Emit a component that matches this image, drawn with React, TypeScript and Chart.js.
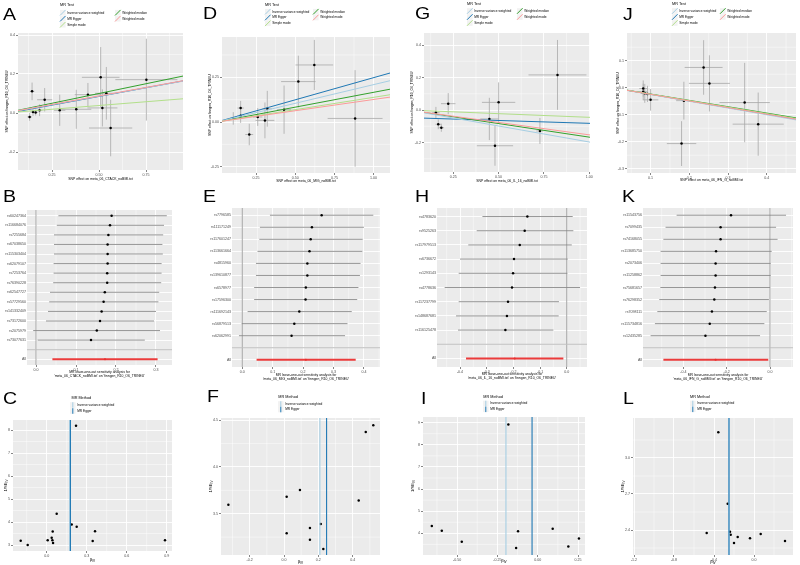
import { useEffect, useRef } from "react";
import { Chart, registerables } from "chart.js";

Chart.register(...registerables);

const FONT = "'Liberation Sans', Arial, 'DejaVu Sans', sans-serif";

// Method palette (ColorBrewer "Paired")
const METHOD_NAMES = ["Inverse variance weighted", "MR Egger", "Simple mode", "Weighted median", "Weighted mode"];
const METHOD_COLORS = ["#A6CEE3", "#1F78B4", "#B2DF8A", "#33A02C", "#FB9A99"];
const FUNNEL_METHODS = ["Inverse variance weighted", "MR Egger"];
const FUNNEL_COLORS = ["#A6CEE3", "#1F78B4"];
const OUTCOME = "finngen_R10_O6_TRINEU";

/* ---------------- CTACK ---------------- */
const ctackExposure = "meta_06_CTACK_noBMI.txt";
const ctackBetaX = [0.131, 0.144, 0.149, 0.163, 0.184, 0.211, 0.291, 0.379, 0.441, 0.509, 0.518, 0.539, 0.562, 0.752];
const ctackBetaY = [-0.02, 0.111, 0.005, 0.002, 0.014, 0.068, 0.014, 0.019, 0.094, 0.183, 0.026, 0.101, -0.077, 0.171];
const ctackSeX = [0.012, 0.012, 0.015, 0.012, 0.015, 0.04, 0.03, 0.08, 0.07, 0.1, 0.08, 0.06, 0.115, 0.165];
const ctackSeY = [0.02, 0.045, 0.02, 0.015, 0.03, 0.06, 0.08, 0.1, 0.06, 0.155, 0.095, 0.135, 0.145, 0.21];
const ctackSlopes = [0.1725, 0.178, 0.077, 0.2, 0.175];
const ctackIntercepts = [0, -0.004, 0, 0, 0];
const ctackXTicks = ["0.25", "0.50", "0.75"];
const ctackYTicks = ["-0.2", "0.0", "0.2", "0.4"];
const ctackSnps = ["rs60247364", "rs116684076", "rs7255684", "rs67038650", "rs115303404", "rs62079107", "rs7253764", "rs76390228", "rs62547727", "rs57729560", "rs141332409", "rs73172600", "rs2075979", "rs73077631"];
const ctackLooB = [0.189, 0.185, 0.181, 0.179, 0.179, 0.179, 0.178, 0.178, 0.172, 0.169, 0.164, 0.16, 0.152, 0.1375];
const ctackLooLo = [0.056, 0.052, 0.045, 0.045, 0.045, 0.044, 0.044, 0.043, 0.035, 0.033, 0.03, 0.025, -0.007, 0.004];
const ctackLooHi = [0.327, 0.32, 0.318, 0.316, 0.317, 0.314, 0.314, 0.313, 0.308, 0.306, 0.3, 0.295, 0.31, 0.272];
const ctackAll = [0.1725, 0.041, 0.304];
const ctackLooTicks = ["0.0", "0.1", "0.2", "0.3"];
const ctackIvBeta = [-0.195, -0.1425, 0.0075, 0.0375, 0.0425, 0.0475, 0.045, 0.075, 0.1875, 0.225, 0.22, 0.345, 0.3625, 0.8875];
const ctackIvPrecision = [3.19, 3.0, 3.21, 3.31, 3.21, 3.09, 3.59, 4.36, 3.89, 3.79, 8.19, 3.17, 3.6, 3.21];
const ctackFunnelBeta = [0.1725, 0.178];
const ctackFunnelXTicks = ["0.0", "0.3", "0.6", "0.9"];
const ctackFunnelYTicks = ["3", "4", "5", "6", "7", "8"];

/* ---------------- MIG ---------------- */
const migExposure = "meta_06_MIG_noBMI.txt";
const migBetaX = [0.105, 0.152, 0.152, 0.207, 0.261, 0.307, 0.322, 0.429, 0.52, 0.622, 0.882];
const migBetaY = [0.02, 0.035, 0.078, -0.07, 0.028, 0.009, 0.074, 0.069, 0.226, 0.319, 0.02];
const migSeX = [0.02, 0.02, 0.02, 0.025, 0.03, 0.06, 0.03, 0.045, 0.11, 0.12, 0.175];
const migSeY = [0.035, 0.04, 0.04, 0.06, 0.05, 0.1, 0.1, 0.135, 0.145, 0.14, 0.27];
const migSlopes = [0.209, 0.248, 0.138, 0.166, 0.126];
const migIntercepts = [0, 0.0, 0, 0, 0];
const migXTicks = ["0.25", "0.50", "0.75", "1.00"];
const migYTicks = ["-0.25", "0.00", "0.25"];
const migSnps = ["rs7796585", "rs111171249", "rs117601247", "rs113661664", "rs4815960", "rs139610877", "rs6578977", "rs17596300", "rs111692143", "rs56879513", "rs62062991"];
const migLooB = [0.261, 0.229, 0.225, 0.221, 0.214, 0.214, 0.209, 0.208, 0.1875, 0.171, 0.162];
const migLooLo = [0.091, 0.058, 0.056, 0.05, 0.045, 0.045, 0.039, 0.039, 0.0175, -0.002, -0.011];
const migLooHi = [0.431, 0.4, 0.396, 0.395, 0.389, 0.387, 0.382, 0.378, 0.36, 0.346, 0.338];
const migAll = [0.209, 0.047, 0.373];
const migLooTicks = ["0.0", "0.1", "0.2", "0.3", "0.4"];
const migIvBeta = [-0.324, 0.0155, 0.0155, 0.093, 0.151, 0.151, 0.214, 0.229, 0.435, 0.476, 0.52];
const migIvPrecision = [3.596, 3.681, 3.29, 3.753, 3.347, 3.222, 3.39, 3.123, 3.642, 4.372, 4.443];
const migFunnelBeta = [0.209, 0.248];
const migFunnelXTicks = ["-0.2", "0.0", "0.2", "0.4"];
const migFunnelYTicks = ["3.5", "4.0", "4.5"];

/* ---------------- IL-16 ---------------- */
const il16Exposure = "meta_06_IL_16_noBMI.txt";
const il16BetaX = [0.154, 0.167, 0.184, 0.222, 0.449, 0.48, 0.5, 0.728, 0.825];
const il16BetaY = [-0.016, -0.088, -0.109, 0.039, -0.055, -0.22, 0.047, -0.129, 0.216];
const il16SeX = [0.02, 0.015, 0.015, 0.04, 0.05, 0.1, 0.092, 0.02, 0.16];
const il16SeY = [0.035, 0.03, 0.025, 0.065, 0.13, 0.123, 0.123, 0.08, 0.215];
const il16Slopes = [-0.197, -0.035, -0.045, -0.167, -0.153];
const il16Intercepts = [0, -0.047, 0, 0, 0];
const il16XTicks = ["0.25", "0.50", "0.75", "1.00"];
const il16YTicks = ["-0.2", "0.0", "0.2", "0.4"];
const il16Snps = ["rs4783620", "rs9525263", "rs117979513", "rs6736672", "rs1293143", "rs4778636", "rs117237799", "rs148687681", "rs116125478"];
const il16LooB = [-0.1475, -0.1575, -0.176, -0.1975, -0.201, -0.205, -0.22, -0.224, -0.23];
const il16LooLo = [-0.316, -0.3375, -0.369, -0.4, -0.405, -0.4575, -0.405, -0.415, -0.4075];
const il16LooHi = [0.0225, 0.025, 0.019, 0.004, 0.0025, 0.05, -0.029, -0.03, -0.05];
const il16All = [-0.195, -0.3775, -0.0125];
const il16LooTicks = ["-0.4", "-0.3", "-0.2", "-0.1", "0.0"];
const il16IvBeta = [-0.657, -0.595, -0.471, -0.182, -0.134, -0.122, 0.093, 0.19, 0.256];
const il16IvPrecision = [4.33, 4.12, 3.62, 8.92, 3.34, 4.09, 4.21, 3.4, 3.77];
const il16FunnelBeta = [-0.197, -0.035];
const il16FunnelXTicks = ["-0.50", "-0.25", "0.00", "0.25"];
const il16FunnelYTicks = ["4", "5", "6", "7", "8", "9"];

/* ---------------- IFN-G ---------------- */
const ifngExposure = "meta_06_IFN_G_noBMI.txt";
const ifngBetaX = [0.081, 0.081, 0.085, 0.092, 0.1, 0.18, 0.186, 0.237, 0.252, 0.343, 0.378];
const ifngBetaY = [-0.003, -0.015, -0.021, -0.023, -0.045, -0.207, -0.048, 0.075, 0.016, -0.055, -0.135];
const ifngSeX = [0.01, 0.01, 0.01, 0.01, 0.02, 0.038, 0.02, 0.049, 0.053, 0.065, 0.066];
const ifngSeY = [0.03, 0.03, 0.035, 0.03, 0.04, 0.083, 0.07, 0.101, 0.104, 0.147, 0.117];
const ifngSlopes = [-0.251, -0.245, -0.24, -0.235, -0.245];
const ifngIntercepts = [0, 0, 0, 0, 0];
const ifngXTicks = ["0.1", "0.2", "0.3", "0.4"];
const ifngYTicks = ["-0.3", "-0.2", "-0.1", "0.0", "0.1"];
const ifngSnps = ["rs11543756", "rs7099435", "rs74168055", "rs113685750", "rs2073406", "rs11258862", "rs75681657", "rs76298352", "rs7098111", "rs115734816", "rs12435285"];
const ifngLooB = [-0.18, -0.228, -0.228, -0.249, -0.251, -0.251, -0.254, -0.257, -0.268, -0.278, -0.298];
const ifngLooLo = [-0.431, -0.482, -0.492, -0.505, -0.505, -0.505, -0.506, -0.511, -0.52, -0.531, -0.551];
const ifngLooHi = [0.074, 0.028, 0.035, 0.008, 0.003, 0.003, 0.0, -0.005, -0.015, -0.026, -0.046];
const ifngAll = [-0.251, -0.492, -0.008];
const ifngLooTicks = ["-0.4", "-0.2", "0.0"];
const ifngIvBeta = [-1.14, -0.473, -0.357, -0.263, -0.24, -0.233, -0.2, -0.163, -0.04, 0.067, 0.31];
const ifngIvPrecision = [2.18, 2.375, 3.214, 2.619, 2.386, 2.361, 2.292, 2.342, 2.331, 2.367, 2.308];
const ifngFunnelBeta = [-0.251, -0.25];
const ifngFunnelXTicks = ["-1.2", "-0.8", "-0.4", "0.0"];
const ifngFunnelYTicks = ["2.4", "2.7", "3.0"];

/* ---------------- drawing helpers ---------------- */
type Cell = { x: number; y: number; w: number; h: number };
type Box = { x0: number; y0: number; x1: number; y1: number };

const PANEL_BG = "#EBEBEB";
const KEY_BG = "#F2F2F2";

function axis(min: number, max: number, values: number[], labels: string[], size: number, horizontal: boolean, drawTicks = true): any {
  return {
    type: "linear",
    position: horizontal ? "bottom" : "left",
    min,
    max,
    afterBuildTicks: (s: any) => {
      s.ticks = values.map((value) => ({ value }));
    },
    afterFit: (s: any) => {
      if (horizontal) s.height = size;
      else s.width = size;
      s.paddingLeft = 0;
      s.paddingRight = 0;
      s.paddingTop = 0;
      s.paddingBottom = 0;
    },
    ticks: {
      autoSkip: false,
      maxRotation: 0,
      minRotation: 0,
      padding: 1,
      color: "#4D4D4D",
      font: { family: FONT, size: 3.6 },
      callback: (v: number) => {
        const i = values.findIndex((t) => Math.abs(t - v) < 1e-9);
        return i < 0 ? "" : labels[i];
      },
    },
    grid: { color: "#FFFFFF", lineWidth: 0.9, drawTicks, tickLength: drawTicks ? 2 : 0, tickColor: "#333333", tickWidth: 0.6 },
    border: { display: false },
  };
}
const numAxis = (min: number, max: number, labels: string[], size: number, horizontal: boolean) =>
  axis(min, max, labels.map(Number), labels, size, horizontal, true);

function minorValues(scale: any): number[] {
  const v = scale.ticks.map((t: any) => t.value);
  if (v.length < 2) return [];
  const step = v[1] - v[0];
  const out: number[] = [];
  for (let m = v[0] - step / 2; m <= scale.max; m += step) if (m >= scale.min) out.push(m);
  return out;
}

type Legend = { kind: "abline" | "vline"; title: string; titleX: number; titleY: number; keyX: number[]; rowY: number[]; names: string[]; colors: string[]; perCol: number };
type Label = { main: string; sub?: string };
type Decor = {
  cell: Cell;
  letter: string;
  letterX: number;
  letterY: number;
  xTitle: Label[];
  xTitleY: number[];
  yTitle?: Label;
  yTitleX?: number;
  minorX: boolean;
  minorY: boolean;
  legend?: Legend;
  under?: (chart: any) => void;
};

function drawLabel(ctx: CanvasRenderingContext2D, l: Label, x: number, y: number, size: number, rotate: boolean) {
  ctx.save();
  ctx.translate(x, y);
  if (rotate) ctx.rotate(-Math.PI / 2);
  ctx.fillStyle = "#000000";
  ctx.textBaseline = "middle";
  ctx.font = `${size}px ${FONT}`;
  const wMain = ctx.measureText(l.main).width;
  let wSub = 0;
  if (l.sub) {
    ctx.font = `${size * 0.75}px ${FONT}`;
    wSub = ctx.measureText(l.sub).width;
  }
  const start = -(wMain + wSub) / 2;
  ctx.textAlign = "left";
  ctx.font = `${size}px ${FONT}`;
  ctx.fillText(l.main, start, 0);
  if (l.sub) {
    ctx.font = `${size * 0.75}px ${FONT}`;
    ctx.fillText(l.sub, start + wMain, size * 0.3);
  }
  ctx.restore();
}

function decorPlugin(d: Decor): any {
  return {
    id: "panelDecor",
    beforeDraw(chart: any) {
      const { ctx, chartArea: a, scales } = chart;
      ctx.save();
      ctx.fillStyle = PANEL_BG;
      ctx.fillRect(a.left, a.top, a.right - a.left, a.bottom - a.top);
      ctx.strokeStyle = "#FFFFFF";
      ctx.lineWidth = 0.45;
      if (d.minorX) {
        for (const v of minorValues(scales.x)) {
          const p = scales.x.getPixelForValue(v);
          ctx.beginPath();
          ctx.moveTo(p, a.top);
          ctx.lineTo(p, a.bottom);
          ctx.stroke();
        }
      }
      if (d.minorY) {
        for (const v of minorValues(scales.y)) {
          const p = scales.y.getPixelForValue(v);
          ctx.beginPath();
          ctx.moveTo(a.left, p);
          ctx.lineTo(a.right, p);
          ctx.stroke();
        }
      }
      ctx.restore();
    },
    beforeDatasetsDraw(chart: any) {
      if (!d.under) return;
      const { ctx, chartArea: a } = chart;
      ctx.save();
      ctx.beginPath();
      ctx.rect(a.left, a.top, a.right - a.left, a.bottom - a.top);
      ctx.clip();
      d.under(chart);
      ctx.restore();
    },
    afterDraw(chart: any) {
      const { ctx, chartArea: a } = chart;
      const ox = d.cell.x;
      const oy = d.cell.y;
      ctx.save();
      // panel tag
      ctx.fillStyle = "#000000";
      ctx.font = `17px ${FONT}`;
      ctx.textAlign = "left";
      ctx.textBaseline = "alphabetic";
      ctx.save();
      ctx.translate(d.letterX - ox, d.letterY - oy + 12);
      ctx.scale(1.15, 1);
      ctx.fillText(d.letter, 0, 0);
      ctx.restore();
      // axis titles
      const cx = (a.left + a.right) / 2;
      d.xTitle.forEach((l, i) => drawLabel(ctx, l, cx, d.xTitleY[i] - oy, l.sub ? 4.2 : 3.4, false));
      if (d.yTitle && d.yTitleX !== undefined) drawLabel(ctx, d.yTitle, d.yTitleX - ox, (a.top + a.bottom) / 2, d.yTitle.sub ? 4.2 : 3.4, true);
      // legend
      const lg = d.legend;
      if (lg) {
        ctx.fillStyle = "#000000";
        ctx.font = `3.8px ${FONT}`;
        ctx.textAlign = "left";
        ctx.textBaseline = "middle";
        ctx.fillText(lg.title, lg.titleX - ox, lg.titleY - oy);
        lg.names.forEach((name, i) => {
          const col = Math.floor(i / lg.perCol);
          const row = i % lg.perCol;
          const kx = lg.keyX[col] - ox;
          const ky = lg.rowY[row] - oy;
          const ks = 5.6;
          ctx.fillStyle = KEY_BG;
          ctx.fillRect(kx, ky - ks / 2, ks, ks);
          ctx.strokeStyle = lg.colors[i];
          ctx.lineWidth = 1;
          ctx.beginPath();
          if (lg.kind === "abline") {
            ctx.moveTo(kx, ky + ks / 2);
            ctx.lineTo(kx + ks, ky - ks / 2);
          } else {
            ctx.moveTo(kx + ks / 2, ky - ks / 2);
            ctx.lineTo(kx + ks / 2, ky + ks / 2);
          }
          ctx.stroke();
          ctx.fillStyle = "#000000";
          ctx.font = `3.2px ${FONT}`;
          ctx.fillText(name, kx + ks + 1.6, ky);
        });
      }
      ctx.restore();
    },
  };
}

function frame(cell: Cell, plot: Box) {
  return {
    padding: { left: 0, top: plot.y0 - cell.y, right: cell.x + cell.w - plot.x1, bottom: 0 },
    yWidth: plot.x0 - cell.x,
    xHeight: cell.y + cell.h - plot.y1,
  };
}

function rangeOf(plot: Box, px0: number, v0: number, ppu: number, horizontal: boolean): [number, number] {
  if (horizontal) return [v0 + (plot.x0 - px0) / ppu, v0 + (plot.x1 - px0) / ppu];
  return [v0 + (px0 - plot.y1) / ppu, v0 + (px0 - plot.y0) / ppu];
}

function baseOptions(fr: any, x: any, y: any): any {
  return {
    responsive: false,
    animation: false,
    devicePixelRatio: 1,
    layout: { padding: fr.padding },
    plugins: { legend: { display: false }, tooltip: { enabled: false }, title: { display: false } },
    scales: { x, y },
    events: [],
  };
}

/* ---------------- panel builders ---------------- */
type ScatterSpec = {
  cell: Cell; plot: Box; tag: string; tagX: number; tagY: number; exposure: string;
  bx: number[]; by: number[]; sx: number[]; sy: number[]; slopes: number[]; intercepts: number[];
  xTicks: string[]; yTicks: string[]; xr: [number, number]; yr: [number, number];
  legendAt: { tx: number; ty: number; k: number[]; rows: number[] }; xTitleY: number; yTitleX: number;
};

function scatterChart(s: ScatterSpec): any {
  const fr = frame(s.cell, s.plot);
  const lineOrder = [3, 5, 2, 4, 1];
  const lines = METHOD_NAMES.map((name, i) => ({
    label: name,
    data: s.xr.map((x) => ({ x, y: s.intercepts[i] + s.slopes[i] * x })),
    showLine: true,
    borderColor: METHOD_COLORS[i],
    borderWidth: 1,
    pointRadius: 0,
    order: lineOrder[i],
  }));
  const points = {
    label: "SNP",
    data: s.bx.map((x, i) => ({ x, y: s.by[i] })),
    pointRadius: 1.25,
    backgroundColor: "#000000",
    borderWidth: 0,
    order: 10,
  };
  const decor: Decor = {
    cell: s.cell, letter: s.tag, letterX: s.tagX, letterY: s.tagY,
    xTitle: [{ main: `SNP effect on ${s.exposure}` }], xTitleY: [s.xTitleY],
    yTitle: { main: `SNP effect on ${OUTCOME}` }, yTitleX: s.yTitleX,
    minorX: true, minorY: true,
    legend: { kind: "abline", title: "MR Test", titleX: s.legendAt.tx, titleY: s.legendAt.ty, keyX: s.legendAt.k, rowY: s.legendAt.rows, names: METHOD_NAMES, colors: METHOD_COLORS, perCol: 3 },
    under: (chart: any) => {
      const { ctx, scales } = chart;
      ctx.strokeStyle = "#A8A8A8";
      ctx.lineWidth = 0.8;
      s.bx.forEach((bx, i) => {
        const px = scales.x.getPixelForValue(bx);
        const py = scales.y.getPixelForValue(s.by[i]);
        ctx.beginPath();
        ctx.moveTo(px, scales.y.getPixelForValue(s.by[i] - s.sy[i]));
        ctx.lineTo(px, scales.y.getPixelForValue(s.by[i] + s.sy[i]));
        ctx.moveTo(scales.x.getPixelForValue(bx - s.sx[i]), py);
        ctx.lineTo(scales.x.getPixelForValue(bx + s.sx[i]), py);
        ctx.stroke();
      });
    },
  };
  return {
    type: "scatter",
    data: { datasets: [points, ...lines] },
    options: baseOptions(fr, numAxis(s.xr[0], s.xr[1], s.xTicks, fr.xHeight, true), numAxis(s.yr[0], s.yr[1], s.yTicks, fr.yWidth, false)),
    plugins: [decorPlugin(decor)],
  };
}

type LooSpec = {
  cell: Cell; plot: Box; tag: string; tagX: number; tagY: number; exposure: string;
  snps: string[]; b: number[]; lo: number[]; hi: number[]; all: number[]; xTicks: string[]; xr: [number, number]; titleY: number[];
};

function looChart(s: LooSpec): any {
  const fr = frame(s.cell, s.plot);
  const n = s.snps.length;
  const pos = s.snps.map((_, i) => n + 2 - i);
  const yValues = [1, 2, ...pos.slice().reverse()];
  const yLabels = ["All", "", ...s.snps.slice().reverse()];
  const yAxis = axis(0.4, n + 2.6, yValues, yLabels, fr.yWidth, false, false);
  const decor: Decor = {
    cell: s.cell, letter: s.tag, letterX: s.tagX, letterY: s.tagY,
    xTitle: [{ main: "MR leave-one-out sensitivity analysis for" }, { main: `'${s.exposure}' on '${OUTCOME}'` }],
    xTitleY: s.titleY,
    minorX: true, minorY: false,
    under: (chart: any) => {
      const { ctx, scales, chartArea: a } = chart;
      const x0 = scales.x.getPixelForValue(0);
      ctx.strokeStyle = "#8F8F8F";
      ctx.lineWidth = 0.8;
      ctx.beginPath();
      ctx.moveTo(x0, a.top);
      ctx.lineTo(x0, a.bottom);
      ctx.stroke();
      ctx.strokeStyle = "#8A8A8A";
      ctx.lineWidth = 0.9;
      s.b.forEach((_, i) => {
        const py = scales.y.getPixelForValue(pos[i]);
        ctx.beginPath();
        ctx.moveTo(scales.x.getPixelForValue(s.lo[i]), py);
        ctx.lineTo(scales.x.getPixelForValue(s.hi[i]), py);
        ctx.stroke();
      });
      const pa = scales.y.getPixelForValue(1);
      ctx.strokeStyle = "#EB3B3B";
      ctx.lineWidth = 1.8;
      ctx.beginPath();
      ctx.moveTo(scales.x.getPixelForValue(s.all[1]), pa);
      ctx.lineTo(scales.x.getPixelForValue(s.all[2]), pa);
      ctx.stroke();
      const pb = scales.y.getPixelForValue(2);
      ctx.strokeStyle = "#BEBEBE";
      ctx.lineWidth = 1;
      ctx.beginPath();
      ctx.moveTo(a.left, pb);
      ctx.lineTo(a.right, pb);
      ctx.stroke();
    },
  };
  return {
    type: "scatter",
    data: {
      datasets: [
        { label: "SNP", data: s.b.map((b, i) => ({ x: b, y: pos[i] })), pointRadius: 1.25, backgroundColor: "#000000", borderWidth: 0 },
        { label: "All", data: [{ x: s.all[0], y: 1 }], pointRadius: 1.1, backgroundColor: "#E8302E", borderWidth: 0 },
      ],
    },
    options: baseOptions(fr, numAxis(s.xr[0], s.xr[1], s.xTicks, fr.xHeight, true), yAxis),
    plugins: [decorPlugin(decor)],
  };
}

type FunnelSpec = {
  cell: Cell; plot: Box; tag: string; tagX: number; tagY: number;
  beta: number[]; prec: number[]; lines: number[]; xTicks: string[]; yTicks: string[]; xr: [number, number]; yr: [number, number];
  legendAt: { tx: number; ty: number; k: number; rows: number[] }; xTitleY: number; yTitleX: number;
};

function funnelChart(s: FunnelSpec): any {
  const fr = frame(s.cell, s.plot);
  const vlines = FUNNEL_METHODS.map((name, i) => ({
    label: name,
    data: s.yr.map((y) => ({ x: s.lines[i], y })),
    showLine: true,
    borderColor: FUNNEL_COLORS[i],
    borderWidth: 1.1,
    pointRadius: 0,
    order: 2 - i,
  }));
  const decor: Decor = {
    cell: s.cell, letter: s.tag, letterX: s.tagX, letterY: s.tagY,
    xTitle: [{ main: "β", sub: "IV" }], xTitleY: [s.xTitleY],
    yTitle: { main: "1/SE", sub: "IV" }, yTitleX: s.yTitleX,
    minorX: true, minorY: true,
    legend: { kind: "vline", title: "MR Method", titleX: s.legendAt.tx, titleY: s.legendAt.ty, keyX: [s.legendAt.k], rowY: s.legendAt.rows, names: FUNNEL_METHODS, colors: FUNNEL_COLORS, perCol: 2 },
  };
  return {
    type: "scatter",
    data: {
      datasets: [
        { label: "SNP", data: s.beta.map((x, i) => ({ x, y: s.prec[i] })), pointRadius: 1.25, backgroundColor: "#000000", borderWidth: 0, order: 10 },
        ...vlines,
      ],
    },
    options: baseOptions(fr, numAxis(s.xr[0], s.xr[1], s.xTicks, fr.xHeight, true), numAxis(s.yr[0], s.yr[1], s.yTicks, fr.yWidth, false)),
    plugins: [decorPlugin(decor)],
  };
}

/* ---------------- layout ---------------- */
const ROW1 = { y: 0, h: 183 };
const ROW2 = { y: 183, h: 200 };
const ROW3 = { y: 383, h: 182 };
const col = (i: number, r: { y: number; h: number }): Cell => ({ x: i * 200, y: r.y, w: 200, h: r.h });

const pA: Box = { x0: 18, y0: 33, x1: 183, y1: 170 };
const pD: Box = { x0: 222, y0: 37, x1: 390, y1: 173 };
const pG: Box = { x0: 424, y0: 33, x1: 590, y1: 172 };
const pJ: Box = { x0: 627, y0: 33, x1: 799, y1: 173 };
const pB: Box = { x0: 27, y0: 210, x1: 172, y1: 365 };
const pE: Box = { x0: 232, y0: 208, x1: 380, y1: 367 };
const pH: Box = { x0: 437, y0: 208, x1: 587, y1: 367 };
const pK: Box = { x0: 643, y0: 208, x1: 793, y1: 367 };
const pC: Box = { x0: 13, y0: 420, x1: 172, y1: 551 };
const pF: Box = { x0: 221, y0: 418, x1: 380, y1: 555 };
const pI: Box = { x0: 423, y0: 417, x1: 585, y1: 555 };
const pL: Box = { x0: 633, y0: 418, x1: 793, y1: 555 };

const PANELS: { cell: Cell; make: () => any }[] = [
  {
    cell: col(0, ROW1),
    make: () => scatterChart({
      cell: col(0, ROW1), plot: pA, tag: "A", tagX: 3, tagY: 8, exposure: ctackExposure,
      bx: ctackBetaX, by: ctackBetaY, sx: ctackSeX, sy: ctackSeY, slopes: ctackSlopes, intercepts: ctackIntercepts,
      xTicks: ctackXTicks, yTicks: ctackYTicks, xr: rangeOf(pA, 52, 0.25, 188, true), yr: rangeOf(pA, 113, 0, 195, false),
      legendAt: { tx: 60, ty: 5, k: [60, 115], rows: [12.7, 18.7, 24.7] }, xTitleY: 179, yTitleX: 7,
    }),
  },
  {
    cell: col(1, ROW1),
    make: () => scatterChart({
      cell: col(1, ROW1), plot: pD, tag: "D", tagX: 203, tagY: 7, exposure: migExposure,
      bx: migBetaX, by: migBetaY, sx: migSeX, sy: migSeY, slopes: migSlopes, intercepts: migIntercepts,
      xTicks: migXTicks, yTicks: migYTicks, xr: rangeOf(pD, 256, 0.25, 156.8, true), yr: rangeOf(pD, 122, 0, 178.8, false),
      legendAt: { tx: 265, ty: 5, k: [265, 313], rows: [11.7, 17.5, 23.3] }, xTitleY: 180.7, yTitleX: 210,
    }),
  },
  {
    cell: col(2, ROW1),
    make: () => scatterChart({
      cell: col(2, ROW1), plot: pG, tag: "G", tagX: 415, tagY: 7, exposure: il16Exposure,
      bx: il16BetaX, by: il16BetaY, sx: il16SeX, sy: il16SeY, slopes: il16Slopes, intercepts: il16Intercepts,
      xTicks: il16XTicks, yTicks: il16YTicks, xr: rangeOf(pG, 453.3, 0.25, 181.2, true), yr: rangeOf(pG, 110, 0, 162.5, false),
      legendAt: { tx: 467, ty: 4, k: [467, 517], rows: [11, 17, 23] }, xTitleY: 180.7, yTitleX: 411.7,
    }),
  },
  {
    cell: col(3, ROW1),
    make: () => scatterChart({
      cell: col(3, ROW1), plot: pJ, tag: "J", tagX: 623, tagY: 8, exposure: ifngExposure,
      bx: ifngBetaX, by: ifngBetaY, sx: ifngSeX, sy: ifngSeY, slopes: ifngSlopes, intercepts: ifngIntercepts,
      xTicks: ifngXTicks, yTicks: ifngYTicks, xr: rangeOf(pJ, 651, 0.1, 394, true), yr: rangeOf(pJ, 87.7, 0, 270, false),
      legendAt: { tx: 672, ty: 4, k: [672, 720], rows: [11, 17, 23] }, xTitleY: 180, yTitleX: 618.3,
    }),
  },
  {
    cell: col(0, ROW2),
    make: () => looChart({
      cell: col(0, ROW2), plot: pB, tag: "B", tagX: 3, tagY: 190, exposure: ctackExposure,
      snps: ctackSnps, b: ctackLooB, lo: ctackLooLo, hi: ctackLooHi, all: ctackAll, xTicks: ctackLooTicks,
      xr: rangeOf(pB, 36, 0, 400, true), titleY: [372, 376],
    }),
  },
  {
    cell: col(1, ROW2),
    make: () => looChart({
      cell: col(1, ROW2), plot: pE, tag: "E", tagX: 203, tagY: 190, exposure: migExposure,
      snps: migSnps, b: migLooB, lo: migLooLo, hi: migLooHi, all: migAll, xTicks: migLooTicks,
      xr: rangeOf(pE, 242.3, 0, 304, true), titleY: [375, 379],
    }),
  },
  {
    cell: col(2, ROW2),
    make: () => looChart({
      cell: col(2, ROW2), plot: pH, tag: "H", tagX: 415, tagY: 190, exposure: il16Exposure,
      snps: il16Snps, b: il16LooB, lo: il16LooLo, hi: il16LooHi, all: il16All, xTicks: il16LooTicks,
      xr: rangeOf(pH, 566.7, 0, 266.7, true), titleY: [374.5, 378.5],
    }),
  },
  {
    cell: col(3, ROW2),
    make: () => looChart({
      cell: col(3, ROW2), plot: pK, tag: "K", tagX: 622, tagY: 190, exposure: ifngExposure,
      snps: ifngSnps, b: ifngLooB, lo: ifngLooLo, hi: ifngLooHi, all: ifngAll, xTicks: ifngLooTicks,
      xr: rangeOf(pK, 770, 0, 216.7, true), titleY: [375, 379],
    }),
  },
  {
    cell: col(0, ROW3),
    make: () => funnelChart({
      cell: col(0, ROW3), plot: pC, tag: "C", tagX: 3, tagY: 392,
      beta: ctackIvBeta, prec: ctackIvPrecision, lines: ctackFunnelBeta, xTicks: ctackFunnelXTicks, yTicks: ctackFunnelYTicks,
      xr: rangeOf(pC, 46.7, 0, 133.3, true), yr: rangeOf(pC, 545, 3, 23.0, false),
      legendAt: { tx: 71.5, ty: 398, k: 70, rows: [405, 411] }, xTitleY: 559.5, yTitleX: 6,
    }),
  },
  {
    cell: col(1, ROW3),
    make: () => funnelChart({
      cell: col(1, ROW3), plot: pF, tag: "F", tagX: 207, tagY: 390,
      beta: migIvBeta, prec: migIvPrecision, lines: migFunnelBeta, xTicks: migFunnelXTicks, yTicks: migFunnelYTicks,
      xr: rangeOf(pF, 284, 0, 171.7, true), yr: rangeOf(pF, 513.7, 3.5, 93.67, false),
      legendAt: { tx: 278.3, ty: 396.7, k: 278, rows: [404, 409.5] }, xTitleY: 561.5, yTitleX: 211,
    }),
  },
  {
    cell: col(2, ROW3),
    make: () => funnelChart({
      cell: col(2, ROW3), plot: pI, tag: "I", tagX: 421, tagY: 392,
      beta: il16IvBeta, prec: il16IvPrecision, lines: il16FunnelBeta, xTicks: il16FunnelXTicks, yTicks: il16FunnelYTicks,
      xr: rangeOf(pI, 537.7, 0, 161.2, true), yr: rangeOf(pI, 533.3, 4, 22.13, false),
      legendAt: { tx: 483.3, ty: 396.7, k: 483, rows: [403.5, 409.3] }, xTitleY: 561, yTitleX: 413,
    }),
  },
  {
    cell: col(3, ROW3),
    make: () => funnelChart({
      cell: col(3, ROW3), plot: pL, tag: "L", tagX: 623, tagY: 392,
      beta: ifngIvBeta, prec: ifngIvPrecision, lines: ifngFunnelBeta, xTicks: ifngFunnelXTicks, yTicks: ifngFunnelYTicks,
      xr: rangeOf(pL, 754, 0, 100, true), yr: rangeOf(pL, 530, 2.4, 120, false),
      legendAt: { tx: 690, ty: 396.7, k: 690, rows: [403.5, 409.3] }, xTitleY: 562, yTitleX: 623,
    }),
  },
];

export default function App() {
  const refs = useRef<(HTMLCanvasElement | null)[]>([]);

  useEffect(() => {
    const charts = PANELS.map((p, i) => new Chart(refs.current[i] as HTMLCanvasElement, p.make()));
    return () => charts.forEach((c) => c.destroy());
  }, []);

  return (
    <div style={{ position: "absolute", left: 0, top: 0, width: 800, height: 565, background: "#FFFFFF", overflow: "hidden" }}>
      {PANELS.map((p, i) => (
        <canvas
          key={i}
          ref={(el) => {
            refs.current[i] = el;
          }}
          width={p.cell.w}
          height={p.cell.h}
          style={{ position: "absolute", left: p.cell.x, top: p.cell.y, width: p.cell.w, height: p.cell.h }}
        />
      ))}
    </div>
  );
}
